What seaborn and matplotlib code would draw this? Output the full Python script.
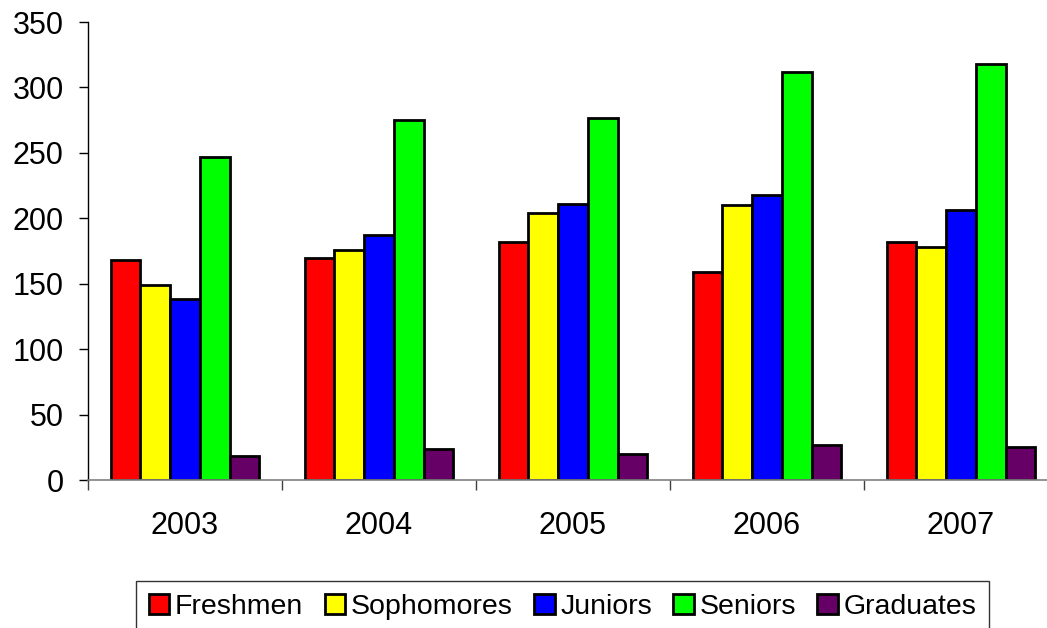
import matplotlib
matplotlib.use("Agg")
import matplotlib.pyplot as plt
import seaborn as sns
import pandas as pd
import numpy as np

years = ["2003", "2004", "2005", "2006", "2007"]
groups = ["Freshmen", "Sophomores", "Juniors", "Seniors", "Graduates"]
freshmen = [168, 170, 182, 159, 182]
sophomores = [149, 176, 204, 210, 178]
juniors = [138, 187, 211, 218, 206]
seniors = [247, 275, 277, 312, 318]
graduates = [18, 24, 20, 27, 25]
colors = ["#FF0000", "#FFFF00", "#0000FF", "#00FF00", "#660066"]

rows = []
for g, vals in zip(groups, [freshmen, sophomores, juniors, seniors, graduates]):
    for y, v in zip(years, vals):
        rows.append({"Year": y, "Group": g, "Count": v})
df = pd.DataFrame(rows)

sns.set_style("white")
plt.rcParams['font.family'] = ['Liberation Sans', 'DejaVu Sans']
plt.rcParams['text.color'] = 'black'
plt.rcParams['xtick.color'] = 'black'
plt.rcParams['ytick.color'] = 'black'

fig = plt.figure(figsize=(10.47, 6.28), dpi=100)
ax = fig.add_axes([88 / 1047, 148 / 628, 970 / 1047, 458 / 628])

sns.barplot(data=df, x="Year", y="Count", hue="Group", order=years,
            hue_order=groups, palette=colors, width=0.766, saturation=1,
            edgecolor="black", linewidth=2, ax=ax, legend=True)

ax.set_ylim(0, 350)
ax.set_xlim(-0.5, 4.5)
ax.set_yticks(range(0, 351, 50))
ax.set_xlabel("")
ax.set_ylabel("")

for s in ["top", "right"]:
    ax.spines[s].set_visible(False)
ax.spines["left"].set_color("black")
ax.spines["left"].set_linewidth(1)
ax.spines["bottom"].set_color("#808080")
ax.spines["bottom"].set_linewidth(1.2)

ax.tick_params(axis="y", length=6.5, width=1, color="black", pad=11,
               labelsize=22, left=True, labelcolor="black")
ax.tick_params(axis="x", which="major", length=0, pad=22, labelsize=22,
               labelcolor="black")
ax.set_xticks(np.arange(-0.5, 5, 1), minor=True)
ax.tick_params(axis="x", which="minor", length=7, width=1, color="#404040",
               bottom=True)

handles, labels = ax.get_legend_handles_labels()
ax.legend_.remove()
leg = fig.legend(handles, labels, loc="upper left",
                 bbox_to_anchor=(136 / 1047, 1 - 581 / 628), ncol=5,
                 fontsize=20.5, frameon=True, fancybox=False,
                 handlelength=0.72, handleheight=0.72, handletextpad=0.2,
                 columnspacing=0.75, borderpad=0.45, borderaxespad=0,
                 labelcolor="black")
leg.get_frame().set_edgecolor("black")
leg.get_frame().set_linewidth(1)
for h in leg.legend_handles:
    h.set_edgecolor("black")
    h.set_linewidth(2)

fig.savefig("out.png", dpi=100)
